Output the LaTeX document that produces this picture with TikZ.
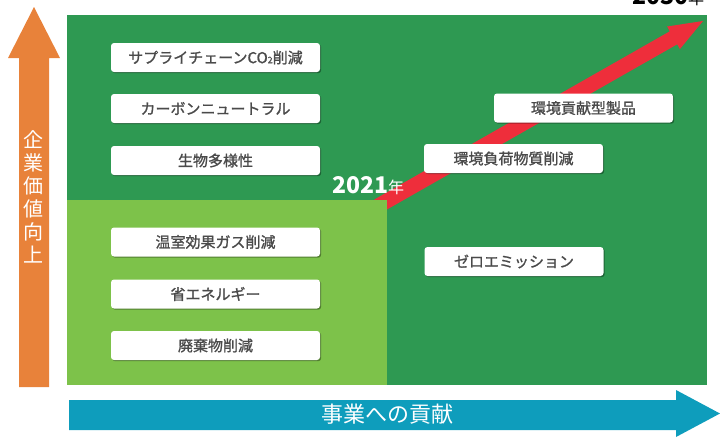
\documentclass[tikz,border=0pt]{standalone}
\usepackage{fontspec}
\newfontfamily\jp{Noto Sans CJK JP}
\newfontfamily\jpm[FakeBold=1.2]{Noto Sans CJK JP}
\usetikzlibrary{shadows}
\definecolor{dkgreen}{HTML}{2E9952}
\definecolor{ltgreen}{HTML}{7DC24A}
\definecolor{orangeA}{HTML}{E8823A}
\definecolor{blueA}{HTML}{0E9DBC}
\definecolor{redA}{HTML}{EE2E3B}
\definecolor{txtgray}{HTML}{4A4A4A}
\tikzset{
  itembox/.style={fill=white, rounded corners=3pt, inner sep=0pt,
    drop shadow={shadow xshift=1.2pt, shadow yshift=-1.2pt, opacity=0.35, fill=black},
    font=\jpm\fontsize{15}{17}\selectfont, text=txtgray},
  leftbox/.style={itembox, minimum width=209pt, minimum height=29pt},
  rightbox/.style={itembox, minimum width=179pt, minimum height=29pt},
}
\begin{document}
\begin{tikzpicture}[x=1pt,y=-1pt]
\useasboundingbox (0,0) rectangle (720,437);
% panels
\fill[dkgreen] (67,15) rectangle (707,385);
% red arrow
\fill[redA] (374.3,199.5) -- (669.8,31.3) -- (667.1,26.5) -- (703,21) -- (679.9,49.1) -- (677.2,44.3) -- (381.7,212.5) -- cycle;
\fill[ltgreen] (67,200) rectangle (387,385);
% year labels
\node[anchor=base west, text=white, inner sep=0pt] (y2021) at (332,193) {\jp\bfseries\fontsize{23}{23}\selectfont 2021\jp\mdseries\fontsize{16}{16}\selectfont 年};
\node[anchor=base west, text=black, inner sep=0pt] (y2030) at (632,4) {\jp\bfseries\fontsize{23}{23}\selectfont 2030\jp\mdseries\fontsize{16}{16}\selectfont 年};
% left boxes
\node[leftbox] (b1) at (215.5,57.5) {サプライチェーンCO{\fontsize{9}{9}\selectfont 2}削減};
\node[leftbox] (b2) at (215.5,108.5) {カーボンニュートラル};
\node[leftbox] (b3) at (215.5,160.5) {生物多様性};
\node[leftbox] (b4) at (215.5,242) {温室効果ガス削減};
\node[leftbox] (b5) at (215.5,294) {省エネルギー};
\node[leftbox] (b6) at (215.5,345.5) {廃棄物削減};
% right boxes
\node[rightbox] (r1) at (583.5,108) {環境貢献型製品};
\node[rightbox] (r2) at (513.5,158.5) {環境負荷物質削減};
\node[rightbox] (r3) at (514,261.5) {ゼロエミッション};
% orange vertical arrow
\fill[orangeA] (19,387) -- (19,58) -- (8,58) -- (34,7) -- (60,58) -- (49,58) -- (49,387) -- cycle;
\node[align=center, text=white, font=\jp\fontsize{20}{23}\selectfont, inner sep=0pt] (vlabel) at (33.5,197) {企\\業\\価\\値\\向\\上};
% blue horizontal arrow
\fill[blueA] (69,400) -- (676,400) -- (676,390) -- (720,413.5) -- (676,437) -- (676,430) -- (69,430) -- cycle;
\node[text=white, font=\jp\fontsize{22}{22}\selectfont, inner sep=0pt] (hlabel) at (387,414) {事業への貢献};
\end{tikzpicture}
\end{document}
